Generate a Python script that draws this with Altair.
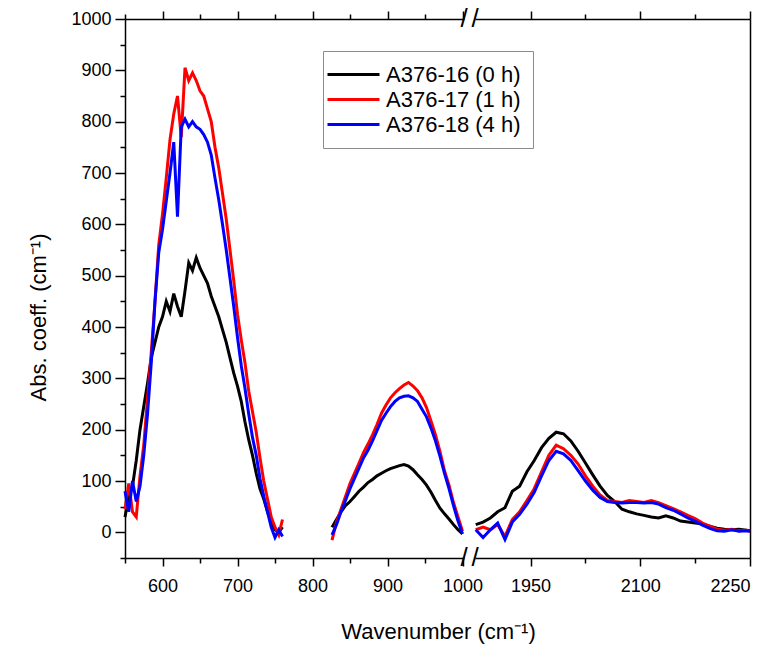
import altair as alt
import pandas as pd

FONT = "Liberation Sans"
SERIES = ["A376-16 (0 h)", "A376-17 (1 h)", "A376-18 (4 h)"]
COLORS = ["#000000", "#ff0000", "#0000ff"]

# ---- segment 1: 550-760 cm-1 ----
wn_a = [550, 555, 560, 565, 570, 575, 580, 585, 590, 595, 600, 605, 610, 615, 620,
        625, 630, 635, 640, 645, 650, 655, 660, 665, 670, 675, 680, 685, 690, 695,
        700, 705, 710, 715, 720, 725, 730, 735, 740, 745, 750, 755, 760]
a16_a = [30, 70, 90, 140, 200, 245, 290, 340, 370, 400, 420, 450, 430, 465, 440,
         420, 470, 525, 510, 535, 515, 500, 485, 460, 440, 420, 395, 370, 340, 310,
         285, 255, 215, 180, 150, 115, 85, 65, 40, 20, 5, 0, 10]
a17_a = [45, 95, 40, 30, 110, 170, 260, 350, 450, 560, 620, 690, 765, 815, 850,
         770, 905, 880, 895, 880, 860, 850, 825, 800, 750, 710, 660, 610, 550, 490,
         425, 375, 330, 275, 235, 195, 145, 100, 65, 30, 10, -5, 25]
a18_a = [80, 40, 100, 60, 90, 150, 230, 330, 450, 545, 590, 645, 700, 760, 615,
         790, 805, 790, 800, 790, 785, 775, 760, 735, 690, 648, 600, 550, 495, 440,
         380, 325, 280, 230, 185, 150, 105, 70, 40, 10, -10, 5, -8]

# ---- segment 2: 826-1000 cm-1 ----
wn_b = [826, 832, 838, 844, 850, 856, 862, 868, 874, 880, 886, 892, 898, 904, 910,
        916, 922, 928, 934, 940, 946, 952, 958, 964, 970, 976, 982, 988, 994, 1000]
a16_b = [10, 25, 40, 52, 60, 70, 80, 88, 97, 103, 110, 115, 120, 124, 127,
         130, 132, 129, 122, 112, 103, 92, 78, 62, 47, 36, 26, 15, 5, -3]
a17_b = [-15, 20, 45, 70, 95, 115, 135, 155, 172, 190, 210, 232, 248, 262, 272,
         280, 287, 292, 285, 276, 262, 243, 217, 190, 157, 120, 92, 58, 30, 2]
a18_b = [-5, 15, 40, 62, 85, 105, 125, 145, 160, 178, 198, 218, 232, 245, 255,
         262, 265, 266, 262, 255, 240, 225, 203, 178, 148, 115, 85, 52, 22, -3]

# ---- segment 3: 1875-2250 cm-1 ----
wn_c = [1875, 1885, 1895, 1905, 1915, 1925, 1935, 1945, 1955, 1965, 1975, 1985, 1995,
        2005, 2015, 2025, 2035, 2045, 2055, 2065, 2075, 2085, 2095, 2105, 2115, 2125,
        2135, 2145, 2155, 2165, 2175, 2185, 2195, 2205, 2215, 2225, 2235, 2245, 2250]
a16_c = [15, 20, 28, 40, 48, 80, 90, 118, 140, 165, 183, 195, 192,
         178, 158, 135, 112, 90, 72, 60, 45, 40, 36, 33, 30, 28,
         32, 28, 22, 20, 18, 16, 12, 8, 6, 5, 6, 4, 3]
a17_c = [5, 10, 5, 15, -8, 25, 40, 62, 85, 118, 150, 170, 163,
         150, 133, 110, 90, 73, 62, 60, 58, 62, 60, 58, 62, 58,
         52, 46, 40, 33, 27, 18, 12, 6, 4, 6, 3, 4, 2]
a18_c = [5, -10, 5, 18, -14, 20, 35, 55, 78, 110, 140, 158, 153,
         140, 120, 100, 82, 68, 60, 58, 57, 58, 58, 57, 58, 55,
         48, 43, 36, 28, 22, 14, 8, 3, 2, 5, 2, 3, 2]

# axis tick values / labels
x_left_ticks = [550, 600, 650, 700, 750, 800, 850, 900, 950, 1000]
x_right_ticks = [1950, 2025, 2100, 2175, 2250]
y_ticks = [-50, 0, 50, 100, 150, 200, 250, 300, 350, 400, 450, 500, 550, 600,
           650, 700, 750, 800, 850, 900, 950, 1000]

rows = []
for name, segs in zip(SERIES, [
        [(wn_a, a16_a, "L"), (wn_b, a16_b, "L"), (wn_c, a16_c, "R")],
        [(wn_a, a17_a, "L"), (wn_b, a17_b, "L"), (wn_c, a17_c, "R")],
        [(wn_a, a18_a, "L"), (wn_b, a18_b, "L"), (wn_c, a18_c, "R")]]):
    for k, (xs, ys, part) in enumerate(segs):
        for x, y in zip(xs, ys):
            rows.append({"wn": x, "ab": y, "series": name,
                         "seg": f"{name}|{k}", "part": part})
df = pd.DataFrame(rows)
df_l = df[df.part == "L"]
df_r = df[df.part == "R"]
one_row = pd.DataFrame({"k": [0]})

color = alt.Color(
    "series:N",
    scale=alt.Scale(domain=SERIES, range=COLORS),
    sort=SERIES,
    legend=alt.Legend(
        title=None, orient="none", legendX=198, legendY=32,
        symbolType="M-1.9,0H3.3", symbolStrokeWidth=3, symbolSize=400,
        labelOffset=28,
        labelFontSize=22, labelFont=FONT, labelColor="black", labelLimit=0,
        strokeColor="#8c8c8c", fillColor="white", padding=12, rowPadding=2,
        cornerRadius=0,
    ),
)

y_scale = alt.Scale(domain=[-50, 1000], nice=False, zero=False)
xl_scale = alt.Scale(domain=[550, 1002], nice=False, zero=False)
xr_scale = alt.Scale(domain=[1874, 2250], nice=False, zero=False)

LEFT_W, RIGHT_W, H = 339, 275, 539


def cond(test, major, minor):
    return {"condition": {"test": test, "value": major}, "value": minor}


xl_major = "datum.value % 100 === 0"
xr_major = "(datum.value - 1950) % 150 === 0"


def slash(data, xval, yval, scale_x):
    return alt.Chart(data).mark_text(text="/", fontSize=26, font=FONT,
                                     color="black").encode(
        x=alt.XDatum(xval, scale=scale_x, axis=None),
        y=alt.YDatum(yval, scale=y_scale, axis=None),
    )


# ---------- left panel ----------
left_lines = alt.Chart(df_l).mark_line(strokeWidth=3).encode(
    x=alt.X("wn:Q", scale=xl_scale,
            axis=alt.Axis(orient="bottom", values=x_left_ticks, format="d",
                          labelExpr=f"{xl_major} ? datum.label : ''",
                          tickSize=cond(xl_major, 8, 5), labelPadding=11,
                          title="Wavenumber (cm⁻¹)", titleX=313,
                          titleAlign="center", titlePadding=26)),
    y=alt.Y("ab:Q", scale=y_scale,
            axis=alt.Axis(orient="left", values=y_ticks, format="d",
                          labelExpr="datum.value % 100 === 0 ? datum.label : ''",
                          tickSize=cond("datum.value % 100 === 0", 10, 5),
                          labelPadding=4, title="Abs. coeff. (cm⁻¹)",
                          titlePadding=20, titleY=298, titleAlign="center")),
    color=color,
    detail="seg:N",
)
left_top = alt.Chart(df_l).mark_line(opacity=0).encode(
    x=alt.X("wn:Q", scale=xl_scale,
            axis=alt.Axis(orient="top", values=x_left_ticks, labels=False,
                          tickSize=cond(xl_major, 8, 5), title=None)),
    y=alt.value(0),
    detail="seg:N",
)
left = alt.layer(
    left_lines, left_top,
    slash(one_row, 1002, -50, xl_scale), slash(one_row, 1002, 1000, xl_scale),
).resolve_axis(x="independent", y="independent").properties(width=LEFT_W, height=H)

# ---------- right panel ----------
right_lines = alt.Chart(df_r).mark_line(strokeWidth=3).encode(
    x=alt.X("wn:Q", scale=xr_scale,
            axis=alt.Axis(orient="bottom", values=x_right_ticks, format="d",
                          labelExpr=f"{xr_major} ? datum.label : ''",
                          tickSize=cond(xr_major, 8, 5), labelPadding=11,
                          title=None)),
    y=alt.Y("ab:Q", scale=y_scale,
            axis=alt.Axis(orient="right", ticks=False, labels=False,
                          title=None)),
    color=color,
    detail="seg:N",
)
right_top = alt.Chart(df_r).mark_line(opacity=0).encode(
    x=alt.X("wn:Q", scale=xr_scale,
            axis=alt.Axis(orient="top", values=x_right_ticks, labels=False,
                          tickSize=cond(xr_major, 8, 5), title=None)),
    y=alt.value(0),
    detail="seg:N",
)
right = alt.layer(
    right_lines, right_top,
    slash(one_row, 1874, -50, xr_scale), slash(one_row, 1874, 1000, xr_scale),
).resolve_axis(x="independent", y="independent").properties(width=RIGHT_W, height=H)

chart = alt.hconcat(left, right, spacing=11, bounds="flush").resolve_scale(
    x="independent"
).properties(
    padding={"left": 27, "top": 6, "right": 5, "bottom": 5},
    background="white",
).configure_view(stroke=None).configure_axis(
    grid=False, domainColor="black", domainWidth=1.5, tickColor="black",
    tickWidth=1.5, labelFont=FONT, labelFontSize=18, labelColor="black",
    titleFont=FONT, titleFontSize=22, titleFontWeight="normal", titleColor="black",
)

chart.save("out.html", embed_options={"renderer": "svg", "actions": False})
